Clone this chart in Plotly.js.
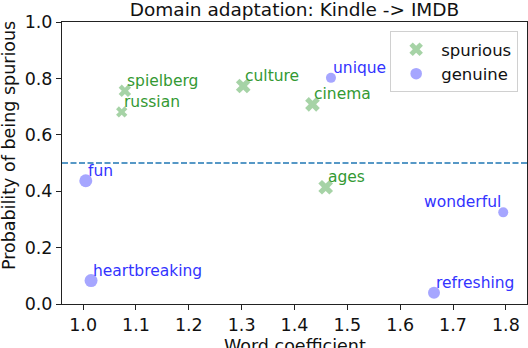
<!DOCTYPE html>
<html>
<head>
<meta charset="utf-8">
<script src="https://cdn.plot.ly/plotly-3.0.1.min.js"></script>
<style>
  html, body { margin: 0; padding: 0; background: #fff; }
  #chart { width: 528px; height: 348px; }
</style>
</head>
<body>
<div id="chart"></div>
<script>
const spuriousWords = ["spielberg", "russian", "culture", "cinema", "ages"];
const spuriousCoef = [1.079, 1.073, 1.303, 1.434, 1.459];
const spuriousProb = [0.756, 0.681, 0.773, 0.708, 0.414];
const spuriousSize = [11, 10, 13, 13, 13];

const genuineWords = ["unique", "fun", "wonderful", "heartbreaking", "refreshing"];
const genuineCoef = [1.469, 1.005, 1.795, 1.015, 1.664];
const genuineProb = [0.802, 0.437, 0.325, 0.083, 0.040];
const genuineSize = [10, 13, 10, 13, 12];

const threshold = 0.5;

const FONT = "DejaVu Sans, sans-serif";
const GREEN_TEXT = "#339933";
const BLUE_TEXT = "#3333ff";
const rightAligned = ["wonderful"];

function wordLabels(words, xs, ys, color) {
  return words.map((w, i) => ({
    text: w,
    x: xs[i],
    y: ys[i],
    xref: "x",
    yref: "y",
    xanchor: rightAligned.includes(w) ? "right" : "left",
    yanchor: "bottom",
    yshift: -1,
    showarrow: false,
    font: { family: FONT, size: 15.5, color: color }
  }));
}

const traces = [
  {
    type: "scatter",
    mode: "markers",
    name: "spurious",
    x: spuriousCoef,
    y: spuriousProb,
    marker: { symbol: "x", size: spuriousSize, color: "rgba(0,128,0,0.5)", line: { width: 0 } },
    hoverinfo: "skip"
  },
  {
    type: "scatter",
    mode: "markers",
    name: "genuine",
    x: genuineCoef,
    y: genuineProb,
    marker: { symbol: "circle", size: genuineSize, color: "rgba(0,0,255,0.5)", line: { width: 0 } },
    hoverinfo: "skip"
  }
];

const axisStyle = {
  showgrid: false,
  zeroline: false,
  showline: true,
  mirror: true,
  linecolor: "#222",
  linewidth: 1,
  ticks: "outside",
  ticklen: 5,
  tickcolor: "#222",
  tickfont: { family: FONT, size: 17.5, color: "#111" },
  tickformat: ".1f"
};

const layout = {
  width: 528,
  height: 348,
  paper_bgcolor: "#fff",
  plot_bgcolor: "#fff",
  margin: { l: 62, r: 1, t: 22, b: 44 },
  font: { family: FONT, color: "#111" },
  title: {
    text: "Domain adaptation: Kindle -> IMDB",
    font: { family: FONT, size: 18.5, color: "#111" },
    x: 0.5,
    xref: "paper",
    y: 1 - 10 / 348,
    yref: "container",
    yanchor: "middle"
  },
  xaxis: Object.assign({}, axisStyle, { range: [0.96, 1.84], dtick: 0.1, tick0: 1.0 }),
  yaxis: Object.assign({}, axisStyle, { range: [0, 1], dtick: 0.2, tick0: 0 }),
  showlegend: true,
  legend: {
    x: 0.981,
    xanchor: "right",
    y: 0.968,
    yanchor: "top",
    itemwidth: 40,
    bgcolor: "rgba(255,255,255,0.8)",
    bordercolor: "#d0d0d0",
    borderwidth: 1,
    font: { family: FONT, size: 16.5, color: "#111" }
  },
  shapes: [
    {
      type: "line",
      xref: "paper",
      x0: 0,
      x1: 1,
      yref: "y",
      y0: threshold,
      y1: threshold,
      line: { color: "#1f77b4", width: 1.5, dash: "6px,2.5px" }
    }
  ],
  annotations: [
    ...wordLabels(spuriousWords, spuriousCoef, spuriousProb, GREEN_TEXT),
    ...wordLabels(genuineWords, genuineCoef, genuineProb, BLUE_TEXT),
    {
      text: "Word coefficient",
      xref: "paper", yref: "paper",
      x: 0.5, y: 0,
      xanchor: "center", yanchor: "middle",
      yshift: -42,
      showarrow: false,
      font: { family: FONT, size: 17.5, color: "#111" }
    },
    {
      text: "Probability of being spurious",
      xref: "paper", yref: "paper",
      x: 0, y: 0.56,
      xanchor: "center", yanchor: "middle",
      xshift: -53,
      textangle: -90,
      showarrow: false,
      font: { family: FONT, size: 17.5, color: "#111" }
    }
  ]
};

Plotly.newPlot("chart", traces, layout, { displayModeBar: false, staticPlot: true });
</script>
</body>
</html>
